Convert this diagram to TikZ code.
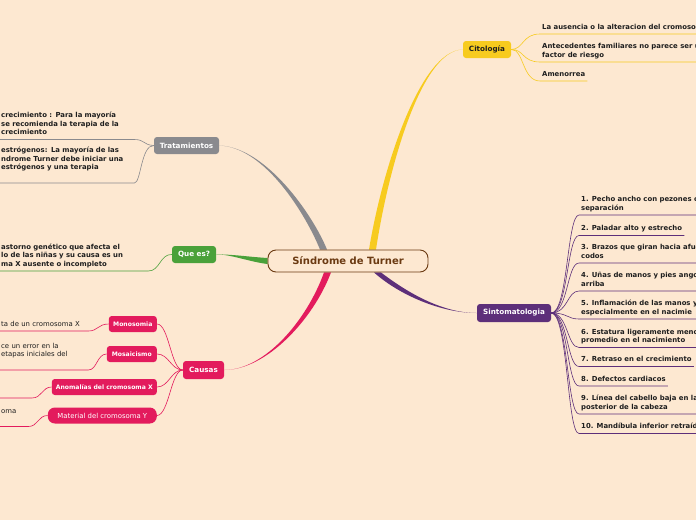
\documentclass[tikz,border=0pt]{standalone}
\usepackage{fontspec}
\setmainfont{DejaVu Sans}
\usepackage{tikz}

\definecolor{peach}{HTML}{FDE8D1}
\definecolor{rootbrown}{HTML}{6B3A12}
\definecolor{citoyellow}{HTML}{F7CB1F}
\definecolor{tratgray}{HTML}{8A8A8E}
\definecolor{quegreen}{HTML}{4AA13A}
\definecolor{causapink}{HTML}{E31B5D}
\definecolor{sintpurple}{HTML}{5D2F7A}
\definecolor{leafink}{HTML}{1E1E1E}

\pgfdeclarelayer{back}
\pgfdeclarelayer{limbs}
\pgfsetlayers{back,limbs,main}

\begin{document}
\begin{tikzpicture}[x=1pt,y=-1pt,
  topic/.style={rounded corners=3pt, text=white, minimum height=17pt, inner xsep=3pt, inner ysep=0pt,
    font=\fontsize{7.2}{8}\selectfont\bfseries},
  subtopic/.style={rounded corners=3pt, fill=causapink, text=white, minimum height=16pt, inner xsep=3pt, inner ysep=0pt,
    font=\fontsize{6.1}{7}\selectfont\bfseries},
  leaf/.style={align=left, text=leafink, inner xsep=2pt, inner ysep=1.8pt, execute at end node={\strut},
    font=\fontsize{6.9}{8.6}\selectfont\bfseries},
  thinleaf/.style={leaf, font=\fontsize{6.9}{8.6}\selectfont},
  twig/.style={line width=0.6pt}]
\begin{pgfonlayer}{back}
\fill[peach] (0,0) rectangle (696,520);
\end{pgfonlayer}
\useasboundingbox (0,0) rectangle (696,520);
\clip (0,0) rectangle (696,520);

% centre and main topics
\node[draw=rootbrown, line width=0.9pt, fill=peach, rounded corners=8pt, minimum width=160pt, minimum height=22pt,
  text=rootbrown, font=\fontsize{10}{11}\selectfont\bfseries] (root) at (348,261) {Síndrome de Turner};
\node[topic, fill=citoyellow, text=leafink, minimum width=48pt] (cit) at (487,49.5) {Citología};
\node[topic, fill=tratgray, minimum width=65pt] (trat) at (186.5,145.5) {Tratamientos};
\node[topic, fill=quegreen, minimum width=44pt] (qe) at (194,254.5) {Que es?};
\node[topic, fill=causapink, minimum width=41pt, minimum height=18pt] (causas) at (203.5,370) {Causas};
\node[topic, fill=sintpurple, minimum width=74pt, minimum height=18pt] (sint) at (514,313) {Sintomatologia};

% causas
\node[subtopic, anchor=east, minimum width=48pt] (mono) at (157,324) {Monosomia};
\node[subtopic, anchor=east, minimum width=50pt] (mosa) at (157,354) {Mosaicismo};
\node[subtopic, anchor=east, minimum width=105pt] (anom) at (157,387) {Anomalías del cromosoma X};
\node[subtopic, anchor=east, minimum width=109pt, rounded corners=7pt, font=\fontsize{6.9}{8}\selectfont] (mat) at (157,415.5) {Material del cromosoma Y};

% leaves
\node[leaf, anchor=south west] (ci1) at (540,34) {La ausencia o la alteracion del cromoso};
\node[leaf, anchor=south west] (ci2) at (540,62) {Antecedentes familiares no parece ser u\\factor de riesgo};
\node[leaf, anchor=south west] (ci3) at (540,81) {Amenorrea};

\node[leaf, anchor=south west, text width=131pt] (t1) at (-1,139.5) {crecimiento : Para la mayoría\\se recomienda la terapia de la\\crecimiento};
\node[leaf, anchor=south west, text width=131pt] (t2) at (-1,183) {estrógenos: La mayoría de las\\ndrome Turner debe iniciar una\\estrógenos y una terapia\\};
\node[leaf, anchor=south west, text width=145pt] (q1) at (-1,271) {astorno genético que afecta el\\lo de las niñas y su causa es un\\ma X ausente o incompleto};

\node[thinleaf, anchor=south west, text width=85pt] (c1) at (-1,331) {ta de un cromosoma X};
\node[thinleaf, anchor=south west, text width=85pt] (c2) at (-1,370) {ce un error en la\\etapas iniciales del\\};
\coordinate (c3a) at (0,398);
\coordinate (c3b) at (32,398);
\node[thinleaf, anchor=south west, text width=25pt] (c4) at (-1,426.5) {oma\\};

\node[leaf, anchor=south west] (s1) at (579,215) {1. Pecho ancho con pezones c\\separación};
\node[leaf, anchor=south west] (s2) at (579,235.5) {2. Paladar alto y estrecho};
\node[leaf, anchor=south west] (s3) at (579,263) {3. Brazos que giran hacia afue\\codos};
\node[leaf, anchor=south west] (s4) at (579,291) {4. Uñas de manos y pies ango\\arriba};
\node[leaf, anchor=south west] (s5) at (579,319) {5. Inflamación de las manos y\\especialmente en el nacimie};
\node[leaf, anchor=south west] (s6) at (579,347.5) {6. Estatura ligeramente meno\\promedio en el nacimiento};
\node[leaf, anchor=south west] (s7) at (579,366.5) {7. Retraso en el crecimiento};
\node[leaf, anchor=south west] (s8) at (579,386) {8. Defectos cardiacos};
\node[leaf, anchor=south west] (s9) at (579,414) {9. Línea del cabello baja en la\\posterior de la cabeza};
\node[leaf, anchor=south west] (s10) at (579,433.5) {10. Mandíbula inferior retraíd};

\begin{pgfonlayer}{limbs}
% thick tapered limbs
\fill[tratgray] ([xshift=-28pt]root.north) .. controls (306,215) and (265,147) .. (trat.east)
  .. controls (266,147) and (313,215) .. ([xshift=-21pt]root.north) -- cycle;
\fill[citoyellow] ([xshift=21pt]root.north) .. controls (382,170) and (420,50) .. (cit.west)
  .. controls (421,50) and (388,170) .. ([xshift=28pt]root.north) -- cycle;
\fill[quegreen] ([yshift=3pt]root.west) .. controls (250,257) and (230,254) .. (qe.east)
  .. controls (230,254) and (250,262) .. ([yshift=-3pt]root.west) -- cycle;
\fill[causapink] ([xshift=-24pt]root.south) .. controls (307,320) and (265,370) .. (causas.east)
  .. controls (266,370) and (313,320) .. ([xshift=-17pt]root.south) -- cycle;
\fill[sintpurple] ([xshift=26pt]root.south) .. controls (398,294) and (440,313) .. (sint.west)
  .. controls (440,313) and (404,290) .. ([xshift=33pt]root.south) -- cycle;
\end{pgfonlayer}

% twigs
\draw[twig, citoyellow] (cit.east) .. controls (524,49) and (522,34) .. (ci1.south west) -- (ci1.south east);
\draw[twig, citoyellow] (cit.east) .. controls (524,49) and (522,62) .. (ci2.south west) -- (ci2.south east);
\draw[twig, citoyellow] (cit.east) .. controls (524,49) and (522,81) .. (ci3.south west) -- (ci3.south east);

\draw[twig, tratgray] (trat.west) .. controls (143,145) and (145,139.5) .. (t1.south east) -- (t1.south west);
\draw[twig, tratgray] (trat.west) .. controls (141,145) and (141,183) .. (t2.south east) -- (t2.south west);
\draw[twig, quegreen] (qe.west) .. controls (160,254) and (160,271) .. (q1.south east) -- (q1.south west);

\draw[twig, causapink] (causas.west) .. controls (171,370) and (169,324) .. (mono.east);
\draw[twig, causapink] (causas.west) .. controls (171,370) and (169,354) .. (mosa.east);
\draw[twig, causapink] (causas.west) .. controls (171,370) and (169,387) .. (anom.east);
\draw[twig, causapink] (causas.west) .. controls (171,370) and (169,415) .. (mat.east);
\draw[twig, causapink] (mono.west) .. controls (98,324) and (98,331) .. (c1.south east) -- (c1.south west);
\draw[twig, causapink] (mosa.west) .. controls (97,354) and (97,370) .. (c2.south east) -- (c2.south west);
\draw[twig, causapink] (anom.west) .. controls (42,387) and (42,398) .. (c3b) -- (c3a);
\draw[twig, causapink] (mat.west) .. controls (38,415.5) and (38,426.5) .. (c4.south east) -- (c4.south west);

\foreach \s in {s1,s2,s3,s4,s5,s6,s7,s8,s9,s10}
  \draw[twig, sintpurple] (sint.east) .. controls (568,313) and ([xshift=-12pt]\s.south west) .. (\s.south west) -- (\s.south east);
\end{tikzpicture}
\end{document}
